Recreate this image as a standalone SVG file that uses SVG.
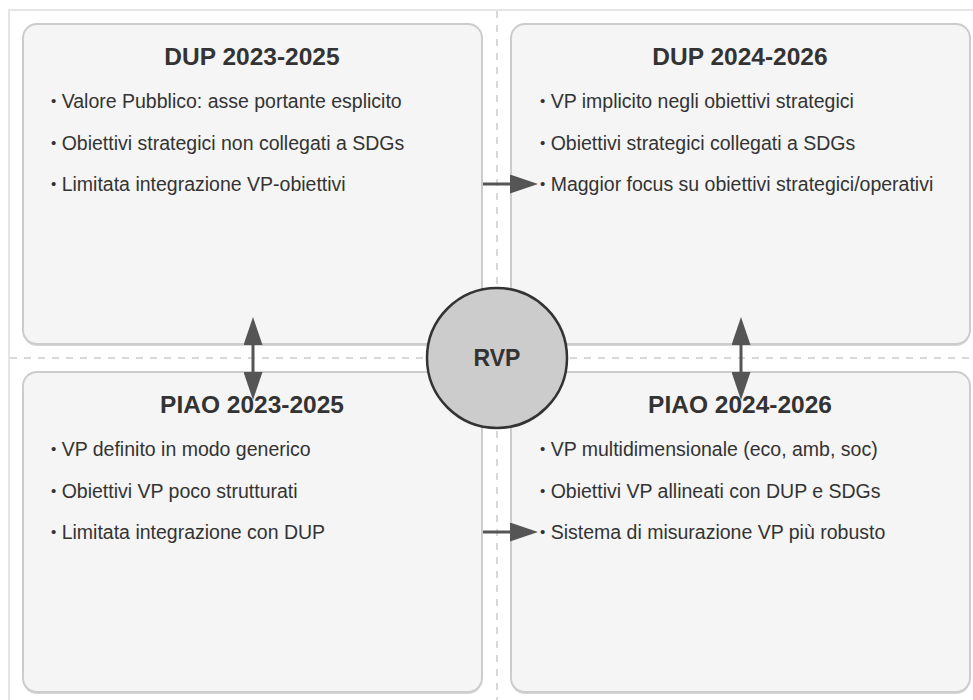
<svg xmlns="http://www.w3.org/2000/svg" width="973" height="700" viewBox="0 0 973 700">
<defs>
<style>
.box{fill:#f5f5f5;stroke:#cccccc;stroke-width:2}
.shadow{fill:#d6d6d6}
.title{font-family:"Liberation Sans",Arial,sans-serif;font-weight:bold;font-size:24.5px;fill:#333;text-anchor:middle}
.item{font-family:"Liberation Sans",Arial,sans-serif;font-size:19.5px;fill:#333}
.b{font-size:15px;baseline-shift:2px}
.grid{stroke:#cccccc;stroke-width:1.5;stroke-dasharray:7,7;fill:none}
.conn{stroke:#555;stroke-width:3;fill:none}
</style>
<marker id="ah" viewBox="0 0 28 19" refX="0" refY="9.5" markerWidth="28" markerHeight="19" markerUnits="userSpaceOnUse" orient="auto-start-reverse">
<path d="M0,0 L28,9.5 L0,19 Z" fill="#555"/>
</marker>
</defs>
<rect x="0" y="0" width="973" height="700" fill="#ffffff"/>
<rect x="9" y="10" width="1000" height="720" fill="#ffffff" stroke="#dddddd" stroke-width="1.5"/>
<line class="grid" x1="497" y1="11" x2="497" y2="700"/>
<line class="grid" x1="10" y1="358" x2="973" y2="358"/>

<g id="dup2023">
<rect class="shadow" x="23" y="26" width="459" height="320" rx="14"/>
<rect class="box" x="23" y="24" width="459" height="320" rx="14"/>
<text class="title" x="252" y="65">DUP 2023-2025</text>
<text class="item" x="51" y="108"><tspan class="b">•</tspan> Valore Pubblico: asse portante esplicito</text>
<text class="item" x="51" y="150"><tspan class="b">•</tspan> Obiettivi strategici non collegati a SDGs</text>
<text class="item" x="51" y="191"><tspan class="b">•</tspan> Limitata integrazione VP-obiettivi</text>
</g>

<g id="dup2024">
<rect class="shadow" x="511" y="26" width="459" height="320" rx="14"/>
<rect class="box" x="511" y="24" width="459" height="320" rx="14"/>
<text class="title" x="740" y="65">DUP 2024-2026</text>
<text class="item" x="540" y="108"><tspan class="b">•</tspan> VP implicito negli obiettivi strategici</text>
<text class="item" x="540" y="150"><tspan class="b">•</tspan> Obiettivi strategici collegati a SDGs</text>
<text class="item" x="540" y="191"><tspan class="b">•</tspan> Maggior focus su obiettivi strategici/operativi</text>
</g>

<g id="piao2023">
<rect class="shadow" x="23" y="374" width="459" height="320" rx="14"/>
<rect class="box" x="23" y="372" width="459" height="320" rx="14"/>
<text class="title" x="252" y="413">PIAO 2023-2025</text>
<text class="item" x="51" y="456"><tspan class="b">•</tspan> VP definito in modo generico</text>
<text class="item" x="51" y="498"><tspan class="b">•</tspan> Obiettivi VP poco strutturati</text>
<text class="item" x="51" y="539"><tspan class="b">•</tspan> Limitata integrazione con DUP</text>
</g>

<g id="piao2024">
<rect class="shadow" x="511" y="374" width="459" height="320" rx="14"/>
<rect class="box" x="511" y="372" width="459" height="320" rx="14"/>
<text class="title" x="740" y="413">PIAO 2024-2026</text>
<text class="item" x="540" y="456"><tspan class="b">•</tspan> VP multidimensionale (eco, amb, soc)</text>
<text class="item" x="540" y="498"><tspan class="b">•</tspan> Obiettivi VP allineati con DUP e SDGs</text>
<text class="item" x="540" y="539"><tspan class="b">•</tspan> Sistema di misurazione VP più robusto</text>
</g>

<g id="connectors">
<line class="conn" x1="483" y1="184" x2="510" y2="184" marker-end="url(#ah)"/>
<line class="conn" x1="483" y1="532" x2="510" y2="532" marker-end="url(#ah)"/>
<line class="conn" x1="253" y1="345" x2="253" y2="372" marker-start="url(#ah)" marker-end="url(#ah)"/>
<line class="conn" x1="741" y1="345" x2="741" y2="372" marker-start="url(#ah)" marker-end="url(#ah)"/>
</g>

<g id="rvp">
<circle cx="497" cy="358" r="70" fill="#cccccc" stroke="#333" stroke-width="2.5"/>
<text x="497" y="366" font-family="Liberation Sans, Arial, sans-serif" font-weight="bold" font-size="23" fill="#333" text-anchor="middle">RVP</text>
</g>
</svg>
